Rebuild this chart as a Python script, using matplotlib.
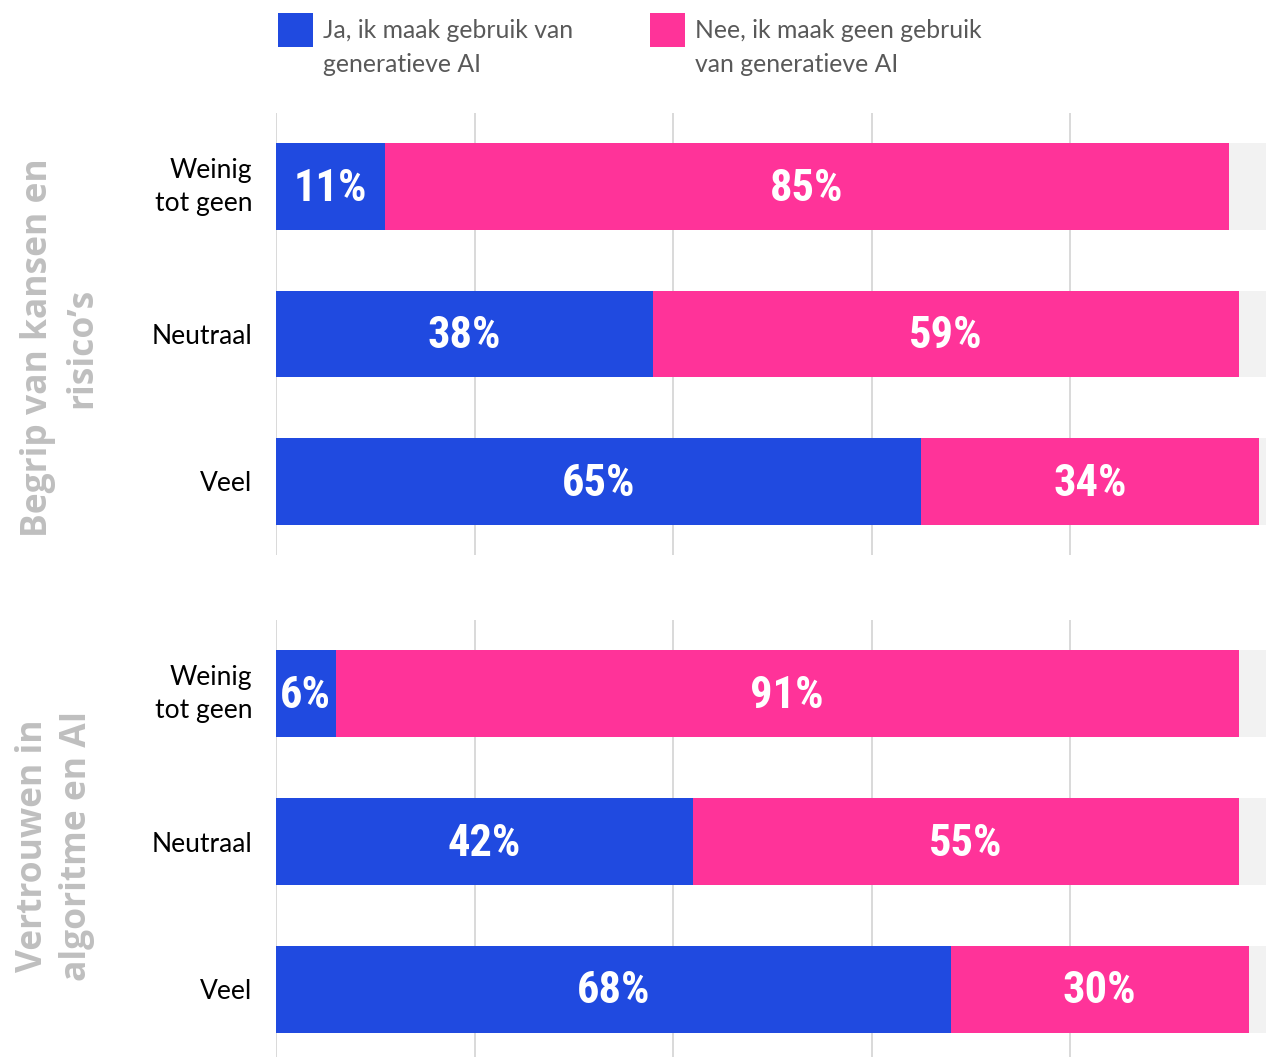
import matplotlib
matplotlib.use("Agg")
import matplotlib.pyplot as plt
from matplotlib.patches import Rectangle

categories = ["Weinig\ntot geen", "Neutraal", "Veel"]
group_labels = ["Begrip van kansen en\nrisico’s", "Vertrouwen in\nalgoritme en AI"]
yes_values = [[11, 38, 65], [6, 42, 68]]
no_values = [[85, 59, 34], [91, 55, 30]]
legend_labels = ["Ja, ik maak gebruik van\ngeneratieve AI", "Nee, ik maak geen gebruik\nvan generatieve AI"]
xticks = [0, 20, 40, 60, 80]

BLUE = "#204AE0"
PINK = "#FF3399"
REST = "#F2F2F2"
GRID = "#D9D9D9"
W, H = 1266, 1057

fig = plt.figure(figsize=(W / 100, H / 100), dpi=100)

pct_font = dict(family=["Roboto Condensed", "Open Sans Condensed", "Liberation Sans Narrow", "Roboto"],
                fontweight="bold", fontsize=32, color="white")

panels = [(113, 555), (620, 1063)]
left = 276 / W
width = 992.5 / W
for gi, (top, bot) in enumerate(panels):
    ax = fig.add_axes([left, 1 - bot / H, width, (bot - top) / H])
    y = list(range(len(categories)))
    yes = yes_values[gi]
    no = no_values[gi]
    rest = [100 - a - b for a, b in zip(yes, no)]
    lefts_no = yes
    lefts_rest = [a + b for a, b in zip(yes, no)]
    ax.barh(y, yes, height=0.59, color=BLUE, zorder=3)
    ax.barh(y, no, left=lefts_no, height=0.59, color=PINK, zorder=3)
    ax.barh(y, rest, left=lefts_rest, height=0.59, color=REST, zorder=3)
    for i in y:
        ax.text(yes[i] / 2, i + 0.015, f"{yes[i]}%", ha="center", va="center", zorder=4, **pct_font)
        ax.text(yes[i] + no[i] / 2, i + 0.015, f"{no[i]}%", ha="center", va="center", zorder=4, **pct_font)
    ax.set_xlim(0, 100)
    ax.set_ylim(2.5, -0.5)
    ax.set_xticks(xticks)
    ax.set_xticklabels([])
    ax.tick_params(axis="x", length=0)
    ax.grid(axis="x", color=GRID, linewidth=1.4, zorder=0)
    ax.set_yticks(y)
    ax.set_yticklabels(categories, fontsize=19, family=["Lato", "DejaVu Sans"], color="#000000")
    ax.tick_params(axis="y", length=0, pad=17)
    for lab in ax.get_yticklabels():
        lab.set_multialignment("right")
        lab.set_linespacing(1.4)
        if "\n" in lab.get_text():
            lab.set_verticalalignment("center")
    for s in ax.spines.values():
        s.set_visible(False)
    ax.set_facecolor("none")

# group labels
fig.text(60 / W, 1 - 348 / H, group_labels[0], rotation=90, ha="center", va="center",
         multialignment="center", fontsize=25.5, fontweight="bold", color="#BFBFBF",
         family=["Open Sans", "DejaVu Sans"], linespacing=1.3)
fig.text(55 / W, 1 - 846 / H, group_labels[1], rotation=90, ha="center", va="center",
         multialignment="center", fontsize=25.5, fontweight="bold", color="#BFBFBF",
         family=["Open Sans", "DejaVu Sans"], linespacing=1.3)

# legend
for (x0, col, lab) in [(278, BLUE, legend_labels[0]), (650, PINK, legend_labels[1])]:
    fig.patches.append(Rectangle((x0 / W, 1 - 47 / H), 35 / W, 34 / H, transform=fig.transFigure,
                                 facecolor=col, edgecolor="none"))
    fig.text((x0 + 45) / W, 1 - 47.5 / H, lab, ha="left", va="center", fontsize=17.8,
             family=["Lato", "DejaVu Sans"], color="#595959", linespacing=1.6)

fig.savefig("out.png", dpi=100)
